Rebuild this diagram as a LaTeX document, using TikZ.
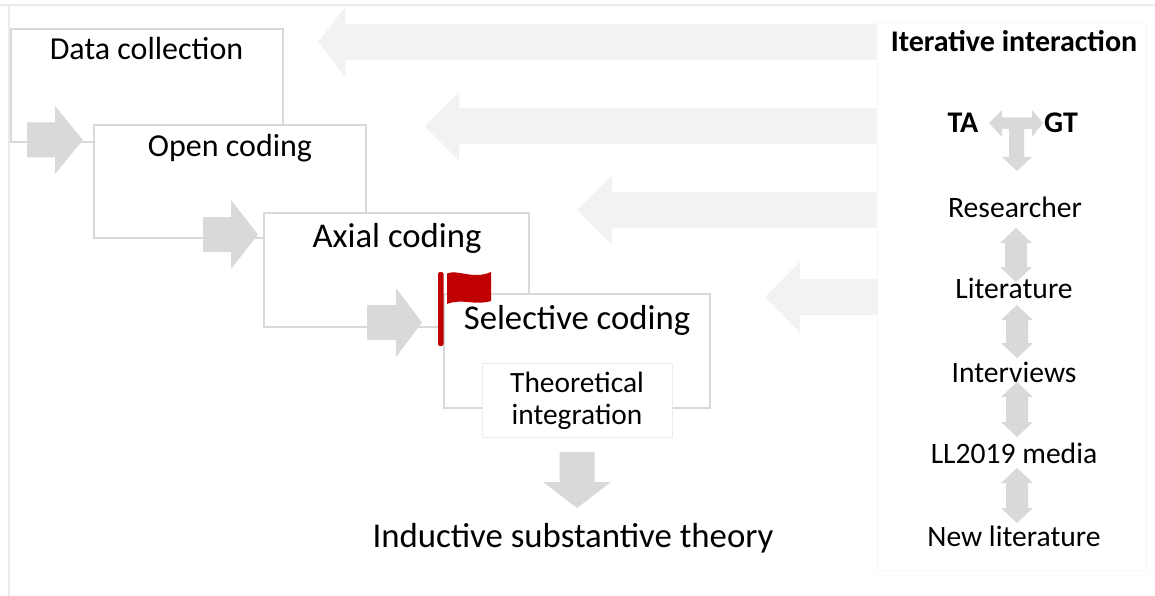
\documentclass[tikz,border=0pt]{standalone}
\usepackage{fontspec}
\setmainfont{Carlito}
\definecolor{boxline}{HTML}{D9D9D9}
\definecolor{flowgray}{HTML}{D9D9D9}
\definecolor{biggray}{HTML}{F2F2F2}
\definecolor{framegray}{HTML}{EBEBEB}
\definecolor{panelgray}{HTML}{F7F7F7}
\definecolor{flagred}{HTML}{C00000}
\newcommand{\rarr}[6]{% x1, tip, headbase, cy, tailhalf, headhalf
  (#1,{#4-#5}) -- (#3,{#4-#5}) -- (#3,{#4-#6}) -- (#2,#4) -- (#3,{#4+#6}) -- (#3,{#4+#5}) -- (#1,{#4+#5}) -- cycle}
\newcommand{\vdarr}[6]{% cx, top tip, bottom tip, headlen, stemhalf, headhalf
  (#1,#2) -- ({#1+#6},{#2+#4}) -- ({#1+#5},{#2+#4}) -- ({#1+#5},{#3-#4}) -- ({#1+#6},{#3-#4}) -- (#1,#3) -- ({#1-#6},{#3-#4}) -- ({#1-#5},{#3-#4}) -- ({#1-#5},{#2+#4}) -- ({#1-#6},{#2+#4}) -- cycle}
\tikzset{
  stagebox/.style={draw=boxline, fill=white, line width=1.3pt, inner sep=0pt},
  titletext/.style={anchor=base, font=\fontsize{32}{38}\selectfont, inner sep=0pt},
  bigtitle/.style={anchor=base, font=\fontsize{34.7}{40}\selectfont, inner sep=0pt},
  coltext/.style={anchor=base, font=\fontsize{29.6}{35}\selectfont, inner sep=0pt},
  colbold/.style={anchor=base, font=\fontsize{30}{36}\selectfont\bfseries, inner sep=0pt},
  flowarrow/.style={fill=flowgray, draw=none},
  bigarrow/.style={fill=biggray, draw=none},
}
\begin{document}
\begin{tikzpicture}[x=1pt,y=-1pt]
\useasboundingbox (0,0) rectangle (1155,596);
\fill[white] (0,0) rectangle (1155,596);
% faint outer frame
\draw[framegray, line width=1.5pt] (0,5) -- (1155,5);
\draw[framegray, line width=1.5pt] (9,5) -- (9,596);
\draw[panelgray, line width=0.8pt] (877,22) rectangle (1146,570);
% big left arrows
\fill[bigarrow] \rarr{876}{318}{345}{42}{18}{34.5};
\fill[bigarrow] \rarr{876}{425}{459}{126}{18}{34.5};
\fill[bigarrow] \rarr{876}{577}{612}{210}{18}{35};
\fill[bigarrow] \rarr{878}{765}{800}{297}{18}{35.5};
% stages
\node[stagebox, minimum width=272pt, minimum height=113pt] (dc) at (147,85.5) {};
\node[titletext] (dct) at (146.5,60) {Data collection};
\fill[flowarrow] \rarr{27}{83}{55}{140}{17.5}{34};
\node[stagebox, minimum width=272pt, minimum height=113pt] (oc) at (230,181.5) {};
\node[titletext] (oct) at (230,157) {Open coding};
\fill[flowarrow] \rarr{203}{258}{231}{234.5}{17.5}{34.5};
\node[stagebox, minimum width=265pt, minimum height=114pt] (ac) at (396.5,270) {};
\node[bigtitle] (act) at (397,247) {Axial coding};
\fill[flowarrow] \rarr{367}{422}{396}{322.5}{17.5}{34.5};
\node[stagebox, minimum width=266pt, minimum height=114pt] (sc) at (577,351) {};
\node[bigtitle] (sct) at (577,329) {Selective coding};
\node[stagebox, line width=1pt, draw=gray!15, minimum width=190pt, minimum height=74pt] (ti) at (577,400) {};
\node[anchor=base, font=\fontsize{29.4}{33}\selectfont, inner sep=0pt] (ti1) at (577,392) {Theoretical};
\node[anchor=base, font=\fontsize{29.4}{33}\selectfont, inner sep=0pt] (ti2) at (577,424) {integration};
% flag
\fill[flagred, rounded corners=2pt] (438,272) rectangle (443.5,346);
\fill[flagred] (447,273.5) .. controls (458,269) and (473,280) .. (491,272) -- (491,301)
  .. controls (475,306) and (462,298) .. (447,304) -- cycle;
% down arrow and result
\fill[flowarrow] (559.5,452) -- (594.5,452) -- (594.5,482) -- (611,482) -- (577,508) -- (543,482) -- (559.5,482) -- cycle;
\node[anchor=base, font=\fontsize{34.8}{40}\selectfont, inner sep=0pt] (ist) at (573,547) {Inductive substantive theory};
% right column
\node[colbold] (iter) at (1014,52) {Iterative interaction};
\node[colbold] (ta) at (963,133) {TA};
\node[colbold] (gt) at (1061,133) {GT};
\fill[flowgray] (989,123) -- (1002,110) -- (1002,117.5) -- (1032,117.5) -- (1032,110) -- (1043,123) -- (1032,137) -- (1032,129) -- (1024,129) -- (1024,157) -- (1032,157) -- (1017,171) -- (1002,157) -- (1009,157) -- (1009,129) -- (1002,129) -- (1002,137) -- cycle;
\node[coltext] (res) at (1015,217) {Researcher};
\node[coltext] (lit) at (1014,298) {Literature};
\node[coltext] (int) at (1014,382) {Interviews};
\node[coltext] (ll) at (1014,463) {LL2019 media};
\node[coltext] (nl) at (1014,546) {New literature};
\fill[flowgray] \vdarr{1016}{228}{282}{15}{11}{16};
\fill[flowgray] \vdarr{1017}{305}{358}{15}{11}{16};
\fill[flowgray] \vdarr{1017}{382}{437}{15}{11}{16};
\fill[flowgray] \vdarr{1017}{468}{523}{15}{11}{16};
\end{tikzpicture}
\end{document}
